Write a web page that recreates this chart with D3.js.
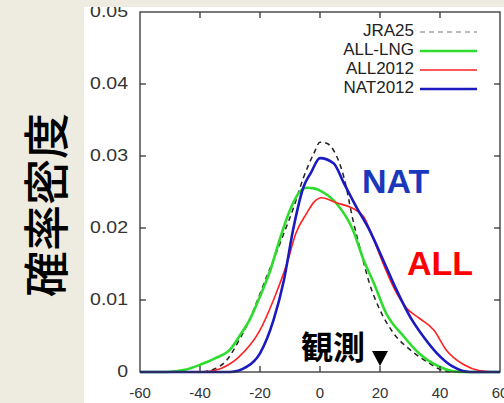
<!DOCTYPE html>
<html>
<head>
<meta charset="utf-8">
<script src="https://cdn.jsdelivr.net/npm/d3@7"></script>
<style>
  html, body { margin: 0; padding: 0; background: #eeece1; }
  svg { display: block; }
</style>
</head>
<body>
<svg id="chart" width="504" height="403"></svg>
<script>
// Values: [anomaly, density]
const jra25 = [[-60,0],[-40,0],[-36,0.0003],[-31,0.0017],[-27,0.0044],[-24,0.0068],[-18,0.013],[-12,0.0193],
  [-9,0.0226],[-5.5,0.027],[-2,0.0304],[0,0.0319],[2,0.0318],[4.5,0.0308],[8,0.027],[11,0.0211],[13.5,0.0169],
  [16.5,0.0123],[20,0.0086],[24.5,0.0054],[30,0.0031],[36.5,0.0012],[41,0.0002],[45,0],[60,0]];
const allLng = [[-60,0],[-51,0],[-45,0.0003],[-40,0.001],[-35,0.0019],[-30,0.0031],[-26.5,0.0052],[-23.5,0.0072],
  [-20,0.0105],[-16.5,0.0142],[-13.5,0.0183],[-10,0.0225],[-7,0.0249],[-4.5,0.0256],[-2,0.0255],[0,0.0252],
  [5.5,0.0234],[11,0.0197],[14.5,0.0156],[18,0.0123],[22,0.0082],[28,0.0049],[33,0.0026],[40,0.0007],[47,0],[60,0]];
const all2012 = [[-60,0],[-39,0],[-33,0.0005],[-27,0.0021],[-20,0.0058],[-15.5,0.010],[-11,0.0151],[-8,0.0193],
  [-4.5,0.022],[-2,0.0236],[0.5,0.0242],[5.5,0.0235],[11,0.0227],[14.5,0.0216],[18,0.0183],[21,0.0151],
  [24.5,0.0118],[29,0.0088],[33,0.0075],[38,0.0058],[42,0.0031],[48,0.001],[53,0.0002],[58,0],[60,0]];
const nat2012 = [[-60,0],[-30,0],[-24.5,0.0007],[-20,0.0026],[-15.5,0.0072],[-12,0.0128],[-9,0.0197],[-5.5,0.0257],
  [-3,0.0277],[0,0.0297],[4.5,0.029],[8,0.0262],[12,0.023],[16.5,0.0197],[21,0.0156],[25.5,0.0114],[30,0.0077],
  [34.5,0.0049],[39,0.0026],[44.5,0.0007],[50,0],[60,0]];

const xTicks = [-60, -40, -20, 0, 20, 40, 60];
const yTicks = [0, 0.01, 0.02, 0.03, 0.04, 0.05];
const observed = 20;

const series = [
  { name: 'JRA25',   data: jra25,   color: '#222', width: 1.5, dash: '5,4' },
  { name: 'ALL-LNG', data: allLng,  color: '#2edc2e', width: 2.6, dash: null },
  { name: 'ALL2012', data: all2012, color: '#ff2020', width: 1.6, dash: null },
  { name: 'NAT2012', data: nat2012, color: '#1a1ac0', width: 2.6, dash: null }
];

const svg = d3.select('#chart');
const box = { left: 140, right: 500, top: 12, bottom: 372 };

// white panel on the beige slide
svg.append('rect').attr('x', 84).attr('y', 7).attr('width', 420).attr('height', 396).attr('fill', '#fff');

const x = d3.scaleLinear().domain([-60, 60]).range([box.left, box.right]);
const y = d3.scaleLinear().domain([0, 0.05]).range([box.bottom, box.top]);

const font = '"Liberation Sans", Arial, sans-serif';

// tick labels (the slide stretched the y labels a bit sideways)
svg.append('g').selectAll('text').data(yTicks).join('text')
  .attr('transform', d => `translate(128,${y(d) + 1}) scale(1.22,1)`)
  .attr('text-anchor', 'end').attr('dominant-baseline', 'middle')
  .attr('font-family', font).attr('font-size', 16).attr('fill', '#333')
  .text(d => d === 0 ? '0' : d.toFixed(2));

svg.append('g').selectAll('text').data(xTicks).join('text')
  .attr('x', d => x(d)).attr('y', 394)
  .attr('text-anchor', 'middle').attr('dominant-baseline', 'middle')
  .attr('font-family', font).attr('font-size', 15).attr('fill', '#333')
  .text(d => d);

// curves
const line = d3.line().x(d => x(d[0])).y(d => y(d[1])).curve(d3.curveMonotoneX);
const plot = svg.append('g');
series.forEach(s => {
  plot.append('path').datum(s.data)
    .attr('d', line)
    .attr('fill', 'none')
    .attr('stroke', s.color)
    .attr('stroke-width', s.width)
    .attr('stroke-dasharray', s.dash);
});

// frame with inward ticks on all four sides
const frame = svg.append('g').attr('stroke', '#333').attr('stroke-width', 1.3);
frame.append('rect').attr('x', box.left).attr('y', box.top)
  .attr('width', box.right - box.left).attr('height', box.bottom - box.top)
  .attr('fill', 'none');
xTicks.slice(1, -1).forEach(t => {
  frame.append('line').attr('x1', x(t)).attr('x2', x(t)).attr('y1', box.bottom).attr('y2', box.bottom - 6);
  frame.append('line').attr('x1', x(t)).attr('x2', x(t)).attr('y1', box.top).attr('y2', box.top + 6);
});
yTicks.slice(1, -1).forEach(t => {
  frame.append('line').attr('x1', box.left).attr('x2', box.left + 6).attr('y1', y(t)).attr('y2', y(t));
  frame.append('line').attr('x1', box.right).attr('x2', box.right - 6).attr('y1', y(t)).attr('y2', y(t));
});

// legend
const legend = svg.append('g');
series.forEach((s, i) => {
  const ly = 32 + i * 19;
  legend.append('text').attr('x', 414).attr('y', ly)
    .attr('text-anchor', 'end').attr('dominant-baseline', 'middle')
    .attr('font-family', font).attr('font-size', 17).attr('fill', '#222')
    .text(s.name);
  legend.append('line').attr('x1', 420).attr('x2', 477).attr('y1', ly).attr('y2', ly)
    .attr('stroke', s.dash ? '#777' : s.color).attr('stroke-width', s.dash ? 1.2 : s.width)
    .attr('stroke-dasharray', s.dash);
});

// annotations
svg.append('text').attr('x', 362).attr('y', 193)
  .attr('font-family', font).attr('font-weight', 'bold').attr('font-size', 34).attr('fill', '#1a38bb')
  .text('NAT');
svg.append('text').attr('x', 407).attr('y', 275)
  .attr('font-family', font).attr('font-weight', 'bold').attr('font-size', 34).attr('fill', '#ff0000')
  .text('ALL');
svg.append('text').attr('x', 301).attr('y', 359)
  .attr('font-family', '"Noto Sans CJK JP", sans-serif').attr('font-weight', 'bold').attr('font-size', 32).attr('fill', '#000')
  .text('観測');
svg.append('path')
  .attr('d', `M${x(observed) - 8},351 L${x(observed) + 8},351 L${x(observed)},366 Z`)
  .attr('fill', '#000');

// vertical axis title, rotated to read bottom-to-top
svg.append('text')
  .attr('transform', 'translate(43,205) rotate(-90)')
  .attr('text-anchor', 'middle').attr('dominant-baseline', 'central')
  .attr('font-family', '"Noto Sans CJK JP", sans-serif').attr('font-weight', 500).attr('font-size', 46)
  .attr('fill', '#000')
  .text('確率密度');

// beige band over the top edge (clips the 0.05 label like the slide does)
svg.append('rect').attr('x', 0).attr('y', 0).attr('width', 504).attr('height', 7).attr('fill', '#eeece1');
</script>
</body>
</html>
